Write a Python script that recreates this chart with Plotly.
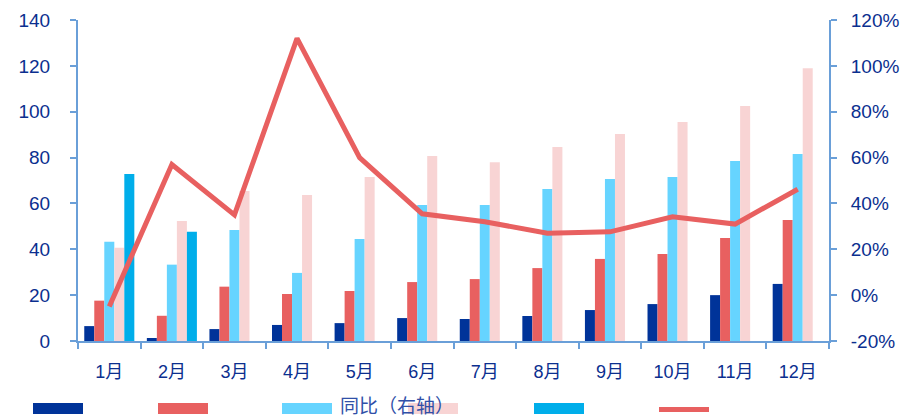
import plotly.graph_objects as go

months = ["1月", "2月", "3月", "4月", "5月", "6月", "7月", "8月", "9月", "10月", "11月", "12月"]
s1 = [6.5, 1.3, 5.2, 7.0, 7.8, 10.0, 9.6, 10.9, 13.5, 16.1, 20.0, 24.9]
s2 = [17.6, 11.0, 23.7, 20.5, 21.8, 25.7, 27.0, 31.8, 35.8, 37.9, 44.9, 52.8]
s3 = [43.3, 33.3, 48.4, 29.7, 44.5, 59.3, 59.3, 66.3, 70.6, 71.5, 78.5, 81.6]
s4 = [40.7, 52.3, 65.4, 63.7, 71.5, 80.7, 78.0, 84.6, 90.3, 95.5, 102.5, 119.0]
s5 = [72.8, 47.7, None, None, None, None, None, None, None, None, None, None]
yoy = [-0.05, 0.57, 0.35, 1.12, 0.60, 0.355, 0.32, 0.27, 0.276, 0.342, 0.31, 0.462]
legend_names = ["", "", "同比（右轴）", "", "", ""]
y2_tickvals = [-0.2, 0.0, 0.2, 0.4, 0.6, 0.8, 1.0, 1.2]
y2_ticktext = ["-20%", "0%", "20%", "40%", "60%", "80%", "100%", "120%"]

c1, c2, c3, c4, c5 = "#003399", "#E86060", "#66D4FF", "#F8D4D4", "#00AEEA"
txt = "#0B2F8F"
axc = "#6A9FD8"
font_fam = "Liberation Sans, Arial, Noto Sans CJK SC, sans-serif"

fig = go.Figure()
for vals, col in [(s1, c1), (s2, c2), (s3, c3), (s4, c4), (s5, c5)]:
    fig.add_trace(go.Bar(x=months, y=vals, marker=dict(color=col, line=dict(width=0)),
                         showlegend=False))
fig.add_trace(go.Scatter(x=months, y=yoy, yaxis="y2", mode="lines",
                         line=dict(color=c2, width=5), showlegend=False))

W, H = 902, 417
L, R, T, B = 78, 829, 20, 341

def px(x):
    return (x - L) / (R - L)

def py(y):
    return (B - y) / (B - T)

shapes = []
annotations = []
sw_x = [33, 158, 282, 408, 534, 659]
sw_cols = [c1, c2, c3, c4, c5, c2]
for i, (x0, col) in enumerate(zip(sw_x, sw_cols)):
    if i == 5:
        y0, y1 = 407, 412
    else:
        y0, y1 = 403, 414
    shapes.append(dict(type="rect", xref="paper", yref="paper",
                       x0=px(x0), x1=px(x0 + 50), y0=py(y1), y1=py(y0),
                       fillcolor=col, line=dict(width=0), layer="above"))
for i, nm in enumerate(legend_names):
    if nm:
        annotations.append(dict(text=nm, xref="paper", yref="paper",
                                x=px(sw_x[i] + 56), y=py(406), xanchor="left", yanchor="middle",
                                showarrow=False, font=dict(size=19, color="#3050A8", family=font_fam)))

fig.update_layout(
    width=W, height=H,
    margin=dict(l=L, r=W - R, t=T, b=H - B),
    paper_bgcolor="white", plot_bgcolor="white",
    barmode="group", bargap=0.2, bargroupgap=0,
    font=dict(family=font_fam, color=txt, size=18),
    shapes=shapes, annotations=annotations,
    xaxis=dict(type="category", showline=True, linecolor=axc, linewidth=2, automargin=False,
               ticks="outside", tickson="boundaries", ticklen=6, tickcolor=axc, tickwidth=2,
               showgrid=False, tickfont=dict(size=18, color=txt), ticklabelstandoff=13),
    yaxis=dict(range=[0, 140], dtick=20, showline=True, linecolor=axc, linewidth=2, automargin=False,
               ticks="outside", ticklen=6, tickcolor=axc, tickwidth=2, showgrid=False,
               zeroline=False, tickfont=dict(size=19, color=txt), ticklabelstandoff=16),
    yaxis2=dict(range=[-0.2, 1.2], tickmode="array", tickvals=y2_tickvals, ticktext=y2_ticktext,
                overlaying="y", side="right",
                showline=True, linecolor=axc, linewidth=2, ticks="outside", ticklen=6, automargin=False,
                tickcolor=axc, tickwidth=2, showgrid=False, zeroline=False,
                tickfont=dict(size=19, color=txt), ticklabelstandoff=10),
)

fig.write_html("out.html")
